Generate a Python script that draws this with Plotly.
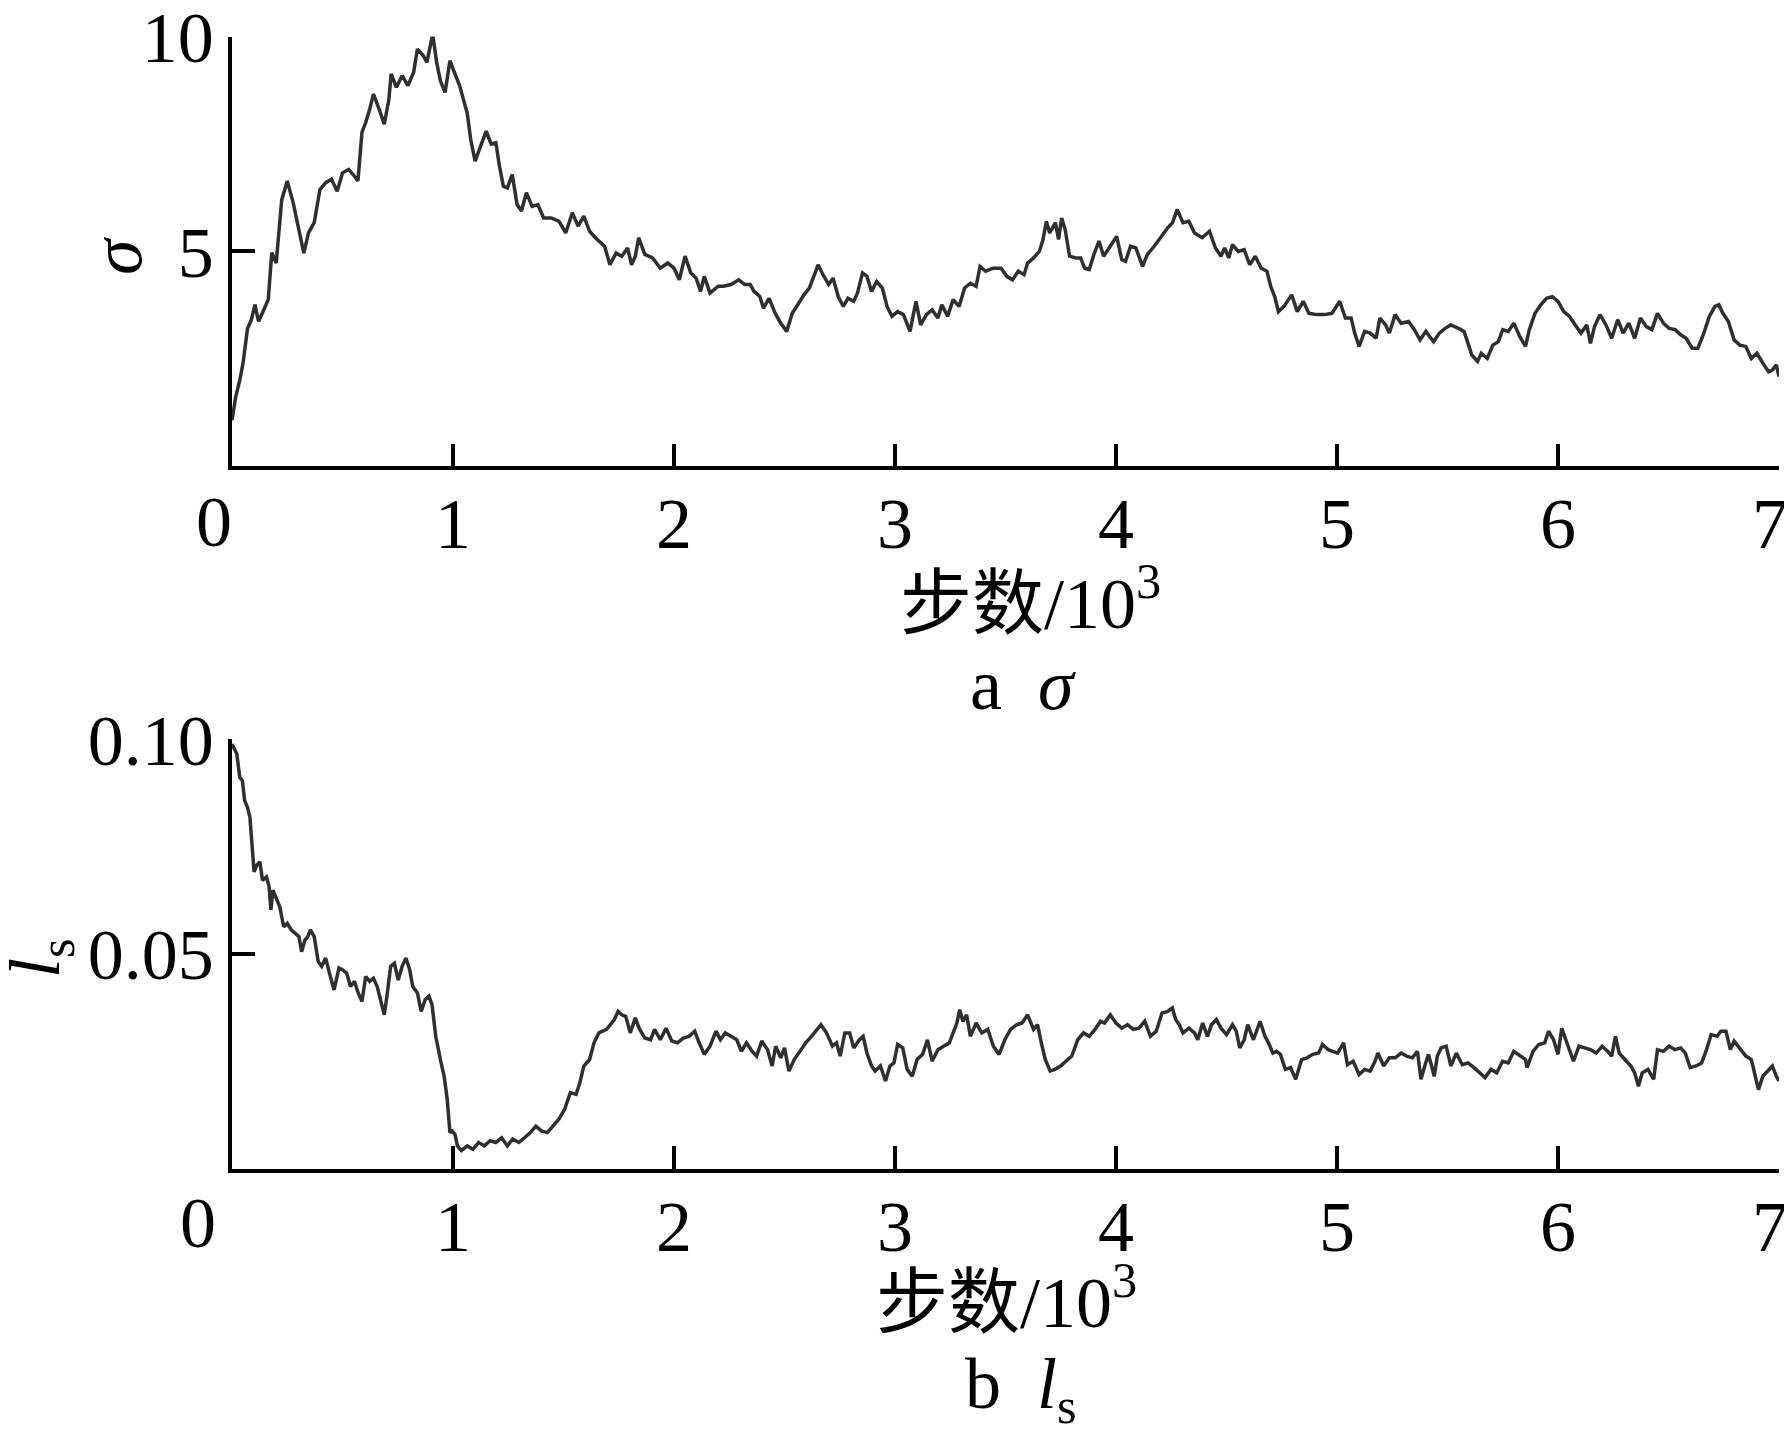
import plotly.graph_objects as go

# ---- data (x in steps/10^3) ----
sigma_points = [
    (0, 1.07), (0.017, 1.62), (0.035, 2.0), (0.05, 2.4), (0.07, 3.2), (0.087, 3.4), (0.104, 3.76), (0.12, 3.37),
    (0.147, 3.68), (0.164, 3.88), (0.18, 4.97), (0.2, 4.73), (0.225, 6.2), (0.25, 6.64), (0.277, 6.13), (0.303, 5.5),
    (0.325, 4.96), (0.346, 5.43), (0.372, 5.67), (0.398, 6.44), (0.424, 6.6), (0.45, 6.68), (0.476, 6.4), (0.5, 6.83),
    (0.528, 6.91), (0.554, 6.75), (0.57, 6.64), (0.588, 7.77), (0.605, 8.0), (0.623, 8.31), (0.64, 8.66), (0.666, 8.31),
    (0.689, 7.96), (0.71, 8.54), (0.72, 9.13), (0.744, 8.82), (0.77, 9.09), (0.796, 8.86), (0.822, 9.17), (0.839, 9.71),
    (0.865, 9.56), (0.882, 9.4), (0.908, 10.06), (0.926, 9.4), (0.943, 8.97), (0.964, 8.7), (0.986, 9.44), (1.012, 9.09),
    (1.03, 8.86), (1.047, 8.54), (1.064, 8.23), (1.08, 7.61), (1.1, 7.1), (1.125, 7.45), (1.15, 7.8), (1.173, 7.5),
    (1.194, 7.53), (1.21, 6.99), (1.228, 6.52), (1.246, 6.48), (1.268, 6.79), (1.29, 6.09), (1.31, 5.94), (1.332, 6.37),
    (1.358, 6.05), (1.384, 6.09), (1.41, 5.78), (1.445, 5.78), (1.48, 5.7), (1.51, 5.43), (1.54, 5.9), (1.566, 5.59),
    (1.592, 5.82), (1.618, 5.47), (1.644, 5.32), (1.686, 5.12), (1.71, 4.69), (1.738, 4.96), (1.764, 4.89), (1.79, 5.08),
    (1.808, 4.69), (1.825, 4.89), (1.84, 5.32), (1.868, 4.93), (1.903, 4.85), (1.938, 4.61), (1.972, 4.73), (2.0, 4.61),
    (2.024, 4.34), (2.05, 4.89), (2.076, 4.5), (2.1, 4.38), (2.12, 4.07), (2.137, 4.42), (2.163, 4.03), (2.2, 4.19),
    (2.224, 4.19), (2.258, 4.23), (2.293, 4.34), (2.32, 4.23), (2.345, 4.23), (2.362, 4.07), (2.388, 3.95), (2.405, 3.68),
    (2.43, 3.91), (2.458, 3.56), (2.483, 3.33), (2.51, 3.14), (2.535, 3.56), (2.56, 3.76), (2.588, 3.99), (2.613, 4.15),
    (2.634, 4.42), (2.652, 4.69), (2.674, 4.46), (2.7, 4.23), (2.72, 4.38), (2.743, 3.95), (2.766, 3.72), (2.787, 3.91),
    (2.813, 3.84), (2.83, 4.03), (2.853, 4.5), (2.873, 4.42), (2.894, 4.07), (2.917, 4.3), (2.943, 4.15), (2.964, 3.72),
    (2.986, 3.49), (3.012, 3.6), (3.038, 3.53), (3.068, 3.14), (3.095, 3.84), (3.116, 3.29), (3.142, 3.53), (3.168, 3.64),
    (3.194, 3.45), (3.212, 3.76), (3.238, 3.49), (3.263, 3.88), (3.29, 3.72), (3.315, 4.15), (3.341, 4.26), (3.367, 4.19),
    (3.385, 4.65), (3.41, 4.54), (3.445, 4.61), (3.48, 4.61), (3.506, 4.42), (3.532, 4.34), (3.558, 4.54), (3.584, 4.46),
    (3.6, 4.73), (3.627, 4.85), (3.653, 5.0), (3.67, 5.28), (3.685, 5.7), (3.7, 5.43), (3.726, 5.67), (3.74, 5.28),
    (3.754, 5.78), (3.77, 5.51), (3.79, 4.89), (3.818, 4.85), (3.84, 4.85), (3.858, 4.61), (3.879, 4.58), (3.9, 4.93),
    (3.923, 5.24), (3.944, 4.89), (3.974, 5.12), (4.003, 5.35), (4.026, 4.81), (4.043, 4.77), (4.066, 5.12), (4.09, 5.08),
    (4.12, 4.65), (4.142, 4.93), (4.173, 5.12), (4.204, 5.35), (4.234, 5.55), (4.256, 5.67), (4.277, 5.98), (4.303, 5.67),
    (4.33, 5.7), (4.355, 5.43), (4.39, 5.32), (4.423, 5.47), (4.45, 5.08), (4.475, 4.89), (4.492, 5.08), (4.51, 4.85),
    (4.527, 5.16), (4.553, 5.0), (4.58, 5.04), (4.605, 4.69), (4.63, 4.89), (4.657, 4.61), (4.683, 4.54), (4.7, 4.19),
    (4.718, 3.95), (4.735, 3.6), (4.76, 3.72), (4.795, 3.99), (4.82, 3.6), (4.847, 3.84), (4.873, 3.56), (4.908, 3.53),
    (4.943, 3.53), (4.977, 3.56), (5.012, 3.84), (5.038, 3.45), (5.064, 3.45), (5.08, 3.1), (5.1, 2.79), (5.125, 3.14),
    (5.15, 3.1), (5.177, 2.98), (5.194, 3.45), (5.22, 3.29), (5.237, 3.1), (5.263, 3.53), (5.29, 3.33), (5.324, 3.37),
    (5.35, 3.18), (5.376, 2.94), (5.402, 3.14), (5.437, 2.9), (5.463, 3.1), (5.489, 3.21), (5.515, 3.29), (5.55, 3.21),
    (5.575, 3.14), (5.593, 2.86), (5.61, 2.59), (5.636, 2.44), (5.653, 2.63), (5.68, 2.51), (5.705, 2.82), (5.73, 2.9),
    (5.75, 3.18), (5.775, 3.14), (5.8, 3.33), (5.827, 3.02), (5.853, 2.79), (5.87, 3.18), (5.896, 3.56), (5.922, 3.76),
    (5.948, 3.91), (5.974, 3.95), (6.0, 3.84), (6.026, 3.6), (6.052, 3.49), (6.078, 3.29), (6.104, 3.1), (6.13, 3.29),
    (6.147, 2.86), (6.165, 3.25), (6.19, 3.53), (6.217, 3.29), (6.243, 2.98), (6.27, 3.41), (6.295, 3.1), (6.32, 3.33),
    (6.347, 2.98), (6.373, 3.45), (6.4, 3.25), (6.425, 3.18), (6.45, 3.56), (6.477, 3.33), (6.503, 3.21), (6.53, 3.18),
    (6.555, 3.06), (6.58, 2.98), (6.607, 2.75), (6.633, 2.75), (6.66, 3.1), (6.685, 3.49), (6.71, 3.72), (6.728, 3.76),
    (6.746, 3.56), (6.771, 3.37), (6.797, 2.94), (6.823, 2.82), (6.85, 2.79), (6.875, 2.51), (6.9, 2.63), (6.927, 2.4),
    (6.953, 2.2), (6.97, 2.24), (6.988, 2.36), (7.0, 2.09),
]

ls_points = [
    (0, 0.0989), (0.022, 0.0966), (0.035, 0.0912), (0.047, 0.0904), (0.057, 0.0858), (0.07, 0.0842), (0.081, 0.0819),
    (0.092, 0.075), (0.1, 0.0692), (0.112, 0.0707), (0.126, 0.0715), (0.138, 0.0672), (0.156, 0.068), (0.168, 0.0657),
    (0.176, 0.0603), (0.185, 0.0649), (0.2, 0.063), (0.216, 0.0611), (0.234, 0.0564), (0.25, 0.0572), (0.268, 0.0557),
    (0.286, 0.0549), (0.303, 0.0541), (0.315, 0.0506), (0.33, 0.0533), (0.343, 0.0541), (0.355, 0.0557), (0.372, 0.0541),
    (0.39, 0.0483), (0.406, 0.0472), (0.424, 0.0491), (0.441, 0.0456), (0.462, 0.0417), (0.484, 0.0468), (0.5, 0.0464),
    (0.519, 0.0456), (0.536, 0.0425), (0.554, 0.0437), (0.571, 0.041), (0.588, 0.039), (0.605, 0.0448), (0.623, 0.0437),
    (0.64, 0.0444), (0.657, 0.0425), (0.675, 0.0386), (0.689, 0.0359), (0.7, 0.0398), (0.718, 0.0472), (0.735, 0.0479),
    (0.752, 0.044), (0.77, 0.0472), (0.787, 0.0491), (0.804, 0.0464), (0.818, 0.0425), (0.839, 0.041), (0.856, 0.0367),
    (0.874, 0.0394), (0.891, 0.0402), (0.905, 0.0383), (0.922, 0.0309), (0.943, 0.0255), (0.96, 0.0216), (0.974, 0.0162),
    (0.986, 0.0085), (0.995, 0.0089), (1.009, 0.0081), (1.02, 0.0054), (1.038, 0.0043), (1.064, 0.0054), (1.09, 0.0046),
    (1.116, 0.0062), (1.142, 0.0054), (1.168, 0.0066), (1.194, 0.0062), (1.22, 0.0073), (1.246, 0.0054), (1.27, 0.007),
    (1.298, 0.0062), (1.324, 0.0073), (1.35, 0.0085), (1.375, 0.01), (1.4, 0.0089), (1.427, 0.0085), (1.453, 0.01),
    (1.479, 0.0116), (1.505, 0.0139), (1.531, 0.0178), (1.557, 0.0174), (1.574, 0.0201), (1.592, 0.024), (1.618, 0.0255),
    (1.638, 0.0294), (1.66, 0.0317), (1.695, 0.0325), (1.712, 0.0336), (1.73, 0.0348), (1.747, 0.0367), (1.764, 0.0359),
    (1.782, 0.0355), (1.802, 0.0317), (1.825, 0.0352), (1.842, 0.0328), (1.868, 0.0305), (1.894, 0.0301), (1.912, 0.0325),
    (1.938, 0.0301), (1.964, 0.0328), (1.99, 0.0298), (2.016, 0.0294), (2.042, 0.0305), (2.068, 0.0309), (2.094, 0.0321),
    (2.114, 0.0294), (2.137, 0.0267), (2.163, 0.0286), (2.19, 0.0321), (2.21, 0.0301), (2.232, 0.0317), (2.258, 0.0309),
    (2.284, 0.0301), (2.305, 0.0274), (2.328, 0.0294), (2.354, 0.0274), (2.374, 0.0263), (2.397, 0.0298), (2.423, 0.0278),
    (2.444, 0.024), (2.46, 0.0286), (2.483, 0.0259), (2.5, 0.0282), (2.52, 0.0228), (2.544, 0.0255), (2.57, 0.0274),
    (2.596, 0.0294), (2.622, 0.0309), (2.64, 0.0321), (2.665, 0.0336), (2.69, 0.0317), (2.717, 0.0286), (2.735, 0.0294),
    (2.752, 0.0263), (2.773, 0.0317), (2.795, 0.0317), (2.813, 0.0282), (2.839, 0.0301), (2.856, 0.0309), (2.873, 0.027),
    (2.894, 0.024), (2.91, 0.0228), (2.934, 0.024), (2.957, 0.0205), (2.977, 0.024), (2.995, 0.0247), (3.012, 0.029),
    (3.035, 0.0282), (3.055, 0.0232), (3.078, 0.0216), (3.1, 0.0255), (3.125, 0.0267), (3.147, 0.0301), (3.168, 0.0251),
    (3.194, 0.0278), (3.22, 0.0286), (3.246, 0.0294), (3.263, 0.0317), (3.28, 0.034), (3.293, 0.0371), (3.307, 0.0344),
    (3.324, 0.0359), (3.341, 0.0309), (3.367, 0.034), (3.393, 0.0317), (3.42, 0.0325), (3.445, 0.0286), (3.471, 0.0267),
    (3.497, 0.0301), (3.523, 0.0325), (3.55, 0.0336), (3.575, 0.034), (3.6, 0.0359), (3.627, 0.0325), (3.645, 0.0336),
    (3.662, 0.0294), (3.68, 0.0255), (3.702, 0.0228), (3.723, 0.0232), (3.749, 0.024), (3.775, 0.0251), (3.8, 0.0263),
    (3.827, 0.0301), (3.853, 0.0317), (3.879, 0.0309), (3.905, 0.0325), (3.93, 0.0344), (3.948, 0.034), (3.974, 0.0359),
    (4.0, 0.034), (4.026, 0.0328), (4.052, 0.0336), (4.078, 0.0325), (4.104, 0.0328), (4.13, 0.0344), (4.156, 0.0309),
    (4.182, 0.0321), (4.208, 0.0363), (4.234, 0.0367), (4.255, 0.0375), (4.27, 0.0348), (4.286, 0.0336), (4.303, 0.0317),
    (4.33, 0.0328), (4.355, 0.0317), (4.37, 0.0301), (4.392, 0.034), (4.414, 0.0309), (4.432, 0.0336), (4.454, 0.0348),
    (4.475, 0.0328), (4.5, 0.0313), (4.527, 0.0336), (4.544, 0.0321), (4.56, 0.0282), (4.58, 0.0301), (4.596, 0.0336),
    (4.622, 0.0301), (4.652, 0.0344), (4.674, 0.0309), (4.69, 0.0294), (4.71, 0.027), (4.726, 0.0274), (4.744, 0.0267),
    (4.766, 0.0232), (4.79, 0.0236), (4.813, 0.0209), (4.84, 0.0255), (4.865, 0.0259), (4.89, 0.0267), (4.917, 0.027),
    (4.934, 0.029), (4.96, 0.0278), (4.986, 0.0274), (5.003, 0.027), (5.03, 0.0294), (5.047, 0.0243), (5.073, 0.0251),
    (5.1, 0.022), (5.125, 0.0232), (5.15, 0.0228), (5.172, 0.0251), (5.185, 0.027), (5.211, 0.024), (5.237, 0.0259),
    (5.263, 0.0259), (5.29, 0.027), (5.315, 0.0263), (5.341, 0.0259), (5.364, 0.0274), (5.38, 0.0209), (5.397, 0.024),
    (5.414, 0.0267), (5.44, 0.0216), (5.454, 0.0263), (5.471, 0.0282), (5.494, 0.0286), (5.515, 0.024), (5.54, 0.027),
    (5.567, 0.0243), (5.593, 0.0247), (5.62, 0.0236), (5.645, 0.0224), (5.67, 0.0213), (5.697, 0.0232), (5.723, 0.0224),
    (5.749, 0.0251), (5.775, 0.0247), (5.8, 0.0274), (5.827, 0.0263), (5.853, 0.0255), (5.86, 0.0236), (5.887, 0.0274),
    (5.913, 0.029), (5.94, 0.0294), (5.957, 0.0321), (5.98, 0.0301), (6.0, 0.0267), (6.017, 0.0328), (6.043, 0.029),
    (6.07, 0.0251), (6.095, 0.0286), (6.121, 0.0282), (6.147, 0.0278), (6.173, 0.027), (6.2, 0.0286), (6.225, 0.0274),
    (6.243, 0.0263), (6.26, 0.0309), (6.277, 0.027), (6.303, 0.0255), (6.33, 0.024), (6.347, 0.0224), (6.364, 0.0193),
    (6.381, 0.0224), (6.407, 0.0232), (6.433, 0.0209), (6.45, 0.0278), (6.477, 0.0274), (6.503, 0.0286), (6.529, 0.0278),
    (6.555, 0.0282), (6.576, 0.027), (6.598, 0.0236), (6.624, 0.024), (6.65, 0.0247), (6.672, 0.0278), (6.693, 0.0313),
    (6.72, 0.0309), (6.737, 0.0321), (6.76, 0.0321), (6.78, 0.0278), (6.797, 0.0298), (6.823, 0.0282), (6.85, 0.0263),
    (6.875, 0.0255), (6.893, 0.0216), (6.907, 0.0185), (6.927, 0.0216), (6.953, 0.0232), (6.97, 0.024), (6.988, 0.0216),
    (7.0, 0.0205),
]

x_tick_values = [1, 2, 3, 4, 5, 6, 7]
x_tick_labels = ["1", "2", "3", "4", "5", "6", "7\u00a0"]
x_origin_label = "0"
sigma_tick_values = [5, 10]
sigma_tick_labels = ["5", "10"]
ls_tick_values = [0.05, 0.10]
ls_tick_labels = ["0.05", "0.10"]

x_title = "步数/10<sup>3</sup>"
caption_a = "a  <i>σ</i>"
caption_b = "b  <i>l</i><sub>s</sub>"
ylabel_a = "<i>σ</i>"
ylabel_b = "<i>l</i><sub>s</sub>"

sigma_x = [p[0] for p in sigma_points]
sigma_y = [p[1] for p in sigma_points]
ls_x = [p[0] for p in ls_points]
ls_y = [p[1] for p in ls_points]

# ---- figure ----
PAGE_OFFSET = 8          # default body margin of the html page
W, H = 1792 - PAGE_OFFSET, 1452 - PAGE_OFFSET
FONT = "Liberation Serif, Noto Sans CJK SC, serif"
INK = "#000000"
LINE = "#2f2f2f"
FS = 72

def fx(px):
    return (px - PAGE_OFFSET) / W

def fy(py):
    return 1 - (py - PAGE_OFFSET) / H

fig = go.Figure()
fig.add_trace(go.Scatter(x=sigma_x, y=sigma_y, mode="lines", xaxis="x", yaxis="y",
                         line=dict(color=LINE, width=3.5), showlegend=False, hoverinfo="skip"))
fig.add_trace(go.Scatter(x=ls_x, y=ls_y, mode="lines", xaxis="x2", yaxis="y2",
                         line=dict(color=LINE, width=3.5), showlegend=False, hoverinfo="skip"))

xdom = [fx(232), fx(1779)]
axis_common = dict(showline=True, linecolor=INK, linewidth=3.5, ticks="inside", ticklen=23,
                   tickwidth=3.5, tickcolor=INK, showgrid=False, zeroline=False, automargin=False,
                   ticklabeloverflow="allow",
                   tickfont=dict(family=FONT, size=FS, color=INK), mirror=False)

fig.update_layout(
    width=W, height=H,
    margin=dict(l=0, r=0, t=0, b=0),
    paper_bgcolor="white", plot_bgcolor="white",
    xaxis=dict(domain=xdom, range=[0, 7], tickvals=x_tick_values, ticktext=x_tick_labels,
               anchor="y", ticklabelstandoff=-8, **axis_common),
    yaxis=dict(domain=[fy(466.3), fy(36.6)], range=[0, 10], tickvals=sigma_tick_values,
               ticktext=sigma_tick_labels, anchor="x", **axis_common),
    xaxis2=dict(domain=xdom, range=[0, 7], tickvals=x_tick_values, ticktext=x_tick_labels,
                anchor="y2", ticklabelstandoff=-8, **axis_common),
    yaxis2=dict(domain=[fy(1169.1), fy(739.4)], range=[0, 0.1], tickvals=ls_tick_values,
                ticktext=ls_tick_labels, anchor="x2", **axis_common),
)

def note(text, px, py, size=FS, angle=0, xanchor="center"):
    fig.add_annotation(text=text, x=fx(px), y=fy(py), xref="paper", yref="paper",
                       xanchor=xanchor, yanchor="middle", showarrow=False, textangle=angle,
                       font=dict(family=FONT, size=size, color=INK))

# origin labels of the x axes (sit slightly left of the origin in the reference)
note(x_origin_label, 214, 522)
note(x_origin_label, 198, 1223)
# axis titles and captions
note(x_title, 1030, 599)
note(caption_a, 1023, 685)
note(x_title, 1006, 1297)
note(caption_b, 1021, 1389)
note(ylabel_a, 117, 256, angle=-90)
note(ylabel_b, 40, 958, angle=-90)

fig.write_html("out.html")
